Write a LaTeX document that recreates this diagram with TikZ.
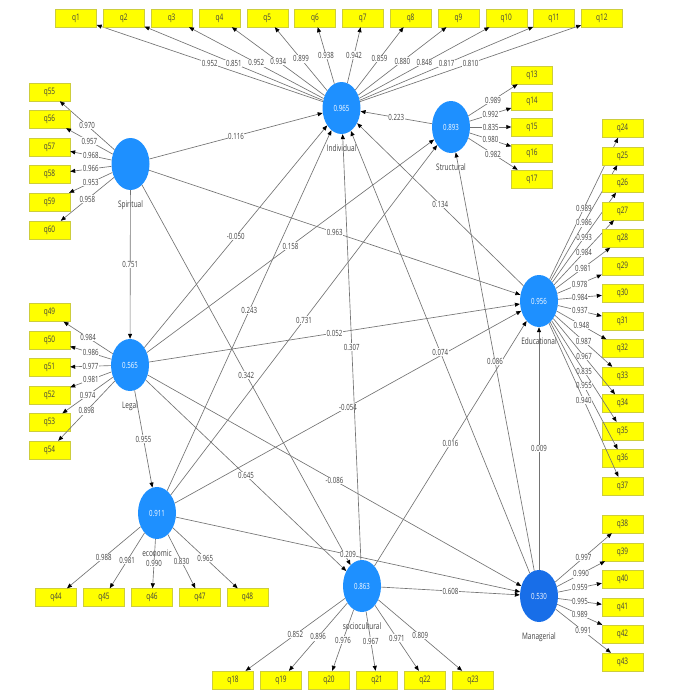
\documentclass[tikz,border=0pt]{standalone}
\usepackage{fontspec}
\setmainfont{Open Sans}[FakeStretch=0.72]
\usetikzlibrary{shapes.geometric,arrows.meta}

\definecolor{plsblue}{RGB}{30,144,255}
\definecolor{plsdark}{RGB}{24,110,232}
\definecolor{plsyellow}{RGB}{255,255,0}
\definecolor{plsedge}{RGB}{205,205,60}
\definecolor{plsline}{RGB}{115,115,115}
\definecolor{plstext}{RGB}{64,64,64}

\begin{document}
\begin{tikzpicture}[x=1pt, y=-1pt,
    construct/.style={ellipse, fill=plsblue, minimum width=38pt, minimum height=52pt,
        inner sep=0pt, text=white, font=\fontsize{8.5}{9}\selectfont},
    cname/.style={text=plstext, font=\fontsize{9}{10}\selectfont, inner sep=0pt,
        yshift=-10pt},
    item/.style={rectangle, fill=plsyellow, draw=plsedge, line width=0.4pt,
        minimum width=41pt, minimum height=18pt, inner sep=0pt,
        text=plstext, font=\fontsize{9}{10}\selectfont},
    link/.style={draw=plsline, line width=0.65pt,
        -{Triangle[length=5pt, width=4pt, color=black]}},
    coef/.style={fill=white, inner sep=0.6pt, text=plstext,
        font=\fontsize{8.5}{9}\selectfont}]

    % Fix the frame of the picture
    \useasboundingbox (0,0) rectangle (685,699);

    % Define the latent variables with their R square values
    \node[construct, label={[cname]below:Individual}] (ind) at (341.5,108) {0.965};
    \node[construct, label={[cname]below:Spiritual}] (spi) at (130.5,164) {};
    \node[construct, label={[cname]below:Structural}] (str) at (451,127) {0.893};
    \node[construct, label={[cname]below:Educational}] (edu) at (539,301) {0.956};
    \node[construct, label={[cname]below:Legal}] (leg) at (130,365) {0.565};
    \node[construct, label={[cname]below:economic}] (eco) at (157,513) {0.911};
    \node[construct, label={[cname]below:sociocultural}] (soc) at (362,586) {0.863};
    \node[construct, fill=plsdark, label={[cname]below:Managerial}] (man) at (539,596) {0.530};

    % Draw the paths between the latent variables
    \draw[link] (spi) -- node[coef]{0.116} (ind);
    \draw[link] (str) -- node[coef]{0.223} (ind);
    \draw[link] (spi) -- node[coef]{0.963} (edu);
    \draw[link] (spi) -- node[coef]{0.751} (leg);
    \draw[link] (spi) -- node[coef]{0.342} (soc);
    \draw[link] (leg) -- node[coef]{-0.050} (ind);
    \draw[link] (leg) -- node[coef]{0.158} (str);
    \draw[link] (leg) -- node[coef]{0.052} (edu);
    \draw[link] (leg) -- node[coef]{0.955} (eco);
    \draw[link] (leg) -- node[coef]{0.645} (soc);
    \draw[link] (leg) -- node[coef]{-0.086} (man);
    \draw[link] (eco) -- node[coef]{0.243} (ind);
    \draw[link] (eco) -- node[coef]{0.731} (str);
    \draw[link] (eco) -- node[coef]{-0.054} (edu);
    \draw[link] (eco) -- node[coef]{0.209} (man);
    \draw[link] (soc) -- node[coef]{0.307} (ind);
    \draw[link] (soc) -- node[coef]{0.016} (edu);
    \draw[link] (soc) -- node[coef]{0.608} (man);
    \draw[link] (edu) -- node[coef]{0.134} (ind);
    \draw[link] (man) -- node[coef]{0.074} (ind);
    \draw[link] (man) -- node[coef]{0.086} (str);
    \draw[link] (man) -- node[coef]{0.009} (edu);

    % Individual items along the top
    \foreach \n/\v [count=\k from 0] in {1/0.952, 2/0.851, 3/0.952, 4/0.934,
        5/0.899, 6/0.938, 7/0.942, 8/0.859, 9/0.880, 10/0.848, 11/0.817, 12/0.810}
    {
        \node[item] (q\n) at (76+47.8*\k,18) {q\n};
        \draw[link] (ind) -- node[coef]{\v} (q\n);
    }

    % Spiritual items on the left
    \foreach \n/\y/\v in {55/92/0.970, 56/119/0.957, 57/147/0.968,
        58/174/0.966, 59/202/0.953, 60/230/0.958}
    {
        \node[item] (q\n) at (49.5,\y) {q\n};
        \draw[link] (spi) -- node[coef]{\v} (q\n);
    }

    % Legal items on the left
    \foreach \n/\y/\v in {49/312.5/0.984, 50/340/0.986, 51/367.5/0.977,
        52/395/0.981, 53/422.5/0.974, 54/450/0.898}
    {
        \node[item] (q\n) at (49.5,\y) {q\n};
        \draw[link] (leg) -- node[coef]{\v} (q\n);
    }

    % Structural items
    \foreach \n/\y/\v in {13/75/0.989, 14/101.5/0.992, 15/127/0.835,
        16/153/0.980, 17/179/0.982}
    {
        \node[item] (q\n) at (532,\y) {q\n};
        \draw[link] (str) -- node[coef]{\v} (q\n);
    }

    % Educational items on the right
    \foreach \n/\v [count=\k from 0] in {24/0.989, 25/0.986, 26/0.993, 27/0.984,
        28/0.981, 29/0.978, 30/0.984, 31/0.937, 32/0.948, 33/0.987,
        34/0.967, 35/0.835, 36/0.955, 37/0.940}
    {
        \node[item] (q\n) at (622.5,128.5+27.5*\k) {q\n};
        \draw[link] (edu) -- node[coef]{\v} (q\n);
    }

    % Managerial items on the right
    \foreach \n/\y/\v in {38/524/0.997, 39/552/0.990, 40/579/0.959,
        41/607/0.995, 42/634/0.989, 43/662/0.991}
    {
        \node[item] (q\n) at (622.5,\y) {q\n};
        \draw[link] (man) -- node[coef]{\v} (q\n);
    }

    % economic items below
    \foreach \n/\x/\v in {44/56/0.988, 45/104/0.981, 46/152/0.990,
        47/200/0.830, 48/247.5/0.965}
    {
        \node[item] (q\n) at (\x,597.5) {q\n};
        \draw[link] (eco) -- node[coef]{\v} (q\n);
    }

    % sociocultural items at the bottom
    \foreach \n/\x/\v in {18/233/0.852, 19/281/0.896, 20/329/0.976,
        21/377/0.967, 22/425/0.971, 23/473/0.809}
    {
        \node[item] (q\n) at (\x,680) {q\n};
        \draw[link] (soc) -- node[coef]{\v} (q\n);
    }

\end{tikzpicture}
\end{document}
